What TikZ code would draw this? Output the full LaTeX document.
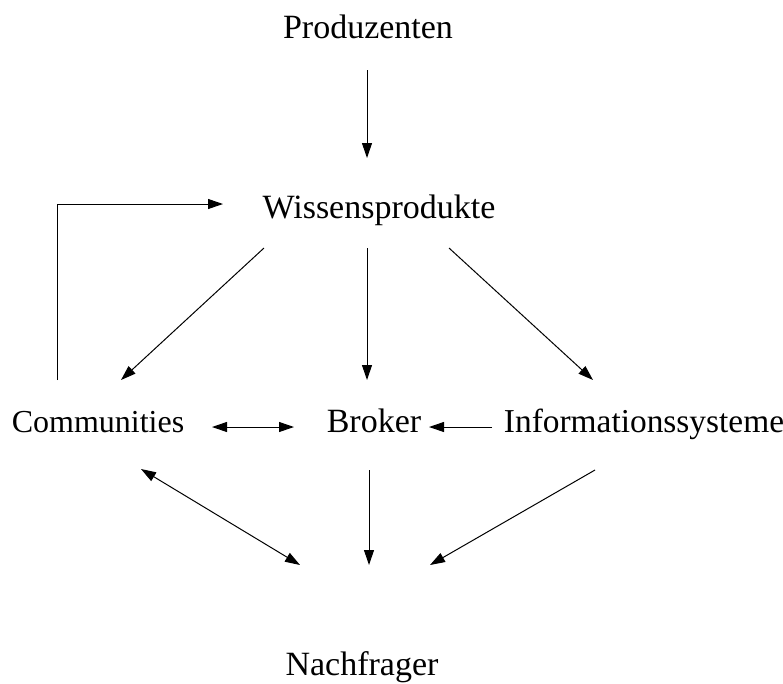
\documentclass[tikz,border=0pt]{standalone}
\usepackage{fontspec}
\setmainfont{Liberation Serif}
\usetikzlibrary{arrows.meta,calc}
\begin{document}
\begin{tikzpicture}[x=1pt,y=-1pt,
  lbl/.style={anchor=base,inner sep=0pt,font=\fontsize{34}{40}\selectfont},
  lblsmall/.style={anchor=base,inner sep=0pt,font=\fontsize{32}{38}\selectfont},
  lblinfo/.style={anchor=base,inner sep=0pt,font=\fontsize{33.4}{38}\selectfont},
  conn/.style={line width=1pt,-{Triangle[length=15pt,width=10pt]}},
  dconn/.style={line width=1pt,{Triangle[length=15pt,width=10pt]}-{Triangle[length=15pt,width=10pt]}},
  plain/.style={line width=1pt}]
\useasboundingbox (0,0) rectangle (783,683);
\node[lbl] (prod) at (368,38) {Produzenten};
\node[lbl] (wis) at (379,218) {Wissensprodukte};
\node[lblsmall] (com) at (98,432) {Communities};
\node[lbl] (bro) at (374,432) {Broker};
\node[lblinfo] (inf) at (644,432) {Informationssysteme};
\node[lbl] (nach) at (362,675) {Nachfrager};
% connectors
\draw[conn] ($(prod.base)+(-1,32)$) -- ($(wis.base)+(-12,-60)$);
\draw[conn] ($(com.base)+(-41,-52)$) |- ($(wis.base)+(-156,-14)$);
\draw[conn] ($(wis.base)+(-115,30)$) -- ($(com.base)+(23,-52)$);
\draw[conn] ($(wis.base)+(-12,30)$) -- ($(bro.base)+(-7,-52)$);
\draw[conn] ($(wis.base)+(70,30)$) -- ($(inf.base)+(-51,-52)$);
\draw[dconn] ($(com.base)+(114,-5)$) -- ($(bro.base)+(-80,-5)$);
\draw[conn] ($(inf.base)+(-152,-5)$) -- ($(bro.base)+(55,-5)$);
\draw[dconn] ($(com.base)+(43,37)$) -- ($(nach.base)+(-62,-110)$);
\draw[conn] ($(bro.base)+(-5,38)$) -- ($(nach.base)+(7,-110)$);
\draw[conn] ($(inf.base)+(-49,38)$) -- ($(nach.base)+(68,-110)$);
\end{tikzpicture}
\end{document}
